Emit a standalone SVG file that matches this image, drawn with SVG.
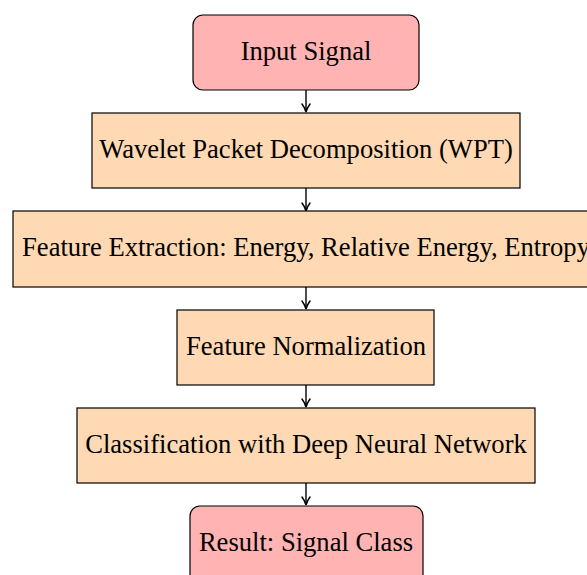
<svg xmlns="http://www.w3.org/2000/svg" width="587" height="575" viewBox="0 0 587 575">
  <style>
    .term { fill: #FFB3B3; stroke: #000; stroke-width: 1.2; }
    .proc { fill: #FFD9B3; stroke: #000; stroke-width: 1.2; }
    .label { font-family: "Liberation Serif", "Times New Roman", serif; font-size: 26.6px; fill: #000; text-anchor: middle; }
    .edge { stroke: #000; stroke-width: 1.4; fill: none; marker-end: url(#arrow); }
  </style>
  <defs>
    <marker id="arrow" viewBox="0 0 10 10" refX="9" refY="5" markerWidth="10" markerHeight="10" markerUnits="userSpaceOnUse" orient="auto">
      <path d="M1,1 Q5,4 9,5 Q5,6 1,9" fill="none" stroke="#000" stroke-width="1.5" stroke-linecap="round"/>
    </marker>
  </defs>

  <g id="connectors">
    <line class="edge" x1="306" y1="90" x2="306" y2="112"/>
    <line class="edge" x1="306" y1="188" x2="306" y2="211"/>
    <line class="edge" x1="306" y1="287" x2="306" y2="309"/>
    <line class="edge" x1="306" y1="385" x2="306" y2="407"/>
    <line class="edge" x1="306" y1="483" x2="306" y2="505"/>
  </g>

  <g id="input">
    <rect class="term" x="193" y="15" width="226" height="75" rx="10"/>
    <text class="label" x="306" y="60">Input Signal</text>
  </g>

  <g id="wpt">
    <rect class="proc" x="92" y="113" width="428" height="75"/>
    <text class="label" x="306" y="158">Wavelet Packet Decomposition (WPT)</text>
  </g>

  <g id="features">
    <rect class="proc" x="13" y="211" width="590" height="76"/>
    <text class="label" x="306" y="256">Feature Extraction: Energy, Relative Energy, Entropy</text>
  </g>

  <g id="normalization">
    <rect class="proc" x="177" y="310" width="257" height="75"/>
    <text class="label" x="306" y="355">Feature Normalization</text>
  </g>

  <g id="classifier">
    <rect class="proc" x="77" y="408" width="458" height="75"/>
    <text class="label" x="306" y="453">Classification with Deep Neural Network</text>
  </g>

  <g id="result">
    <rect class="term" x="190" y="506" width="233" height="90" rx="10"/>
    <text class="label" x="306" y="551">Result: Signal Class</text>
  </g>
</svg>
